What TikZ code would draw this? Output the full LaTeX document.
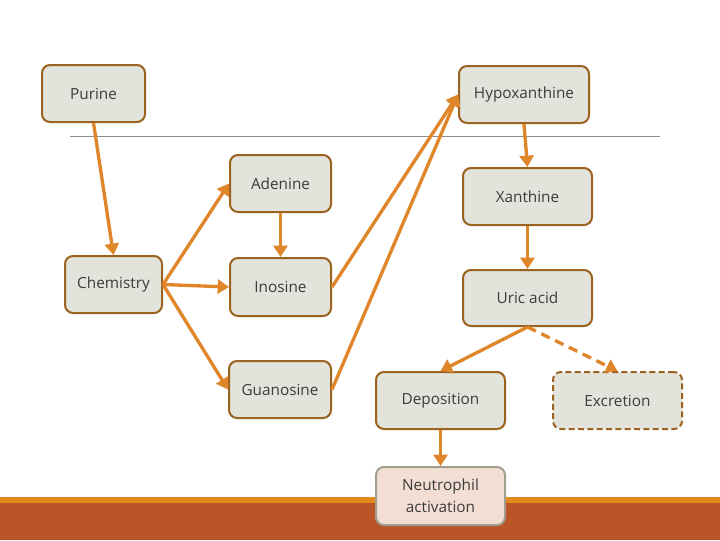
\documentclass[tikz,border=0pt]{standalone}
\usepackage{fontspec}
\setmainfont{Open Sans}
\usetikzlibrary{arrows.meta}
\definecolor{boxfill}{HTML}{E2E3DB}
\definecolor{boxdraw}{HTML}{9C621F}
\definecolor{arr}{HTML}{E0862A}
\definecolor{txt}{HTML}{3C3C3C}
\definecolor{band}{HTML}{BB5527}
\definecolor{strip}{HTML}{E38A1D}
\definecolor{rulec}{HTML}{8C8C8C}
\definecolor{nfill}{HTML}{F3DED4}
\definecolor{ndraw}{HTML}{A29E8E}
\begin{document}
\begin{tikzpicture}[x=0.75pt,y=-0.75pt,
 box/.style={draw=boxdraw,fill=boxfill,line width=1.5pt,rounded corners=6pt,text=txt,
   font=\fontsize{11.5}{16.5}\selectfont,inner sep=0pt,align=center,minimum height=42.75pt},
 arrow/.style={draw=arr,line width=2.5pt,-{Triangle[length=8.5pt,width=10.5pt]}}
]
\useasboundingbox (0,0) rectangle (720,540);
\fill[white] (0,0) rectangle (720,540);
\fill[strip] (0,497) rectangle (720,503);
\fill[band] (0,503) rectangle (720,540);
\draw[rulec,line width=0.75pt] (70,136) -- (660,136);

\node[box,minimum width=77.25pt] (pur) at (93.5,93.5) {Purine};
\node[box,minimum width=97.5pt] (hyp) at (524,94.5) {Hypoxanthine};
\node[box,minimum width=75.75pt] (ade) at (280.5,183.5) {Adenine};
\node[box,minimum width=96.75pt] (xan) at (527.5,196.5) {Xanthine};
\node[box,minimum width=72.75pt] (che) at (113.5,284.5) {Chemistry};
\node[box,minimum width=75.75pt,minimum height=43.5pt] (ino) at (280.5,287) {Inosine};
\node[box,minimum width=96.75pt,minimum height=42pt] (uri) at (527.5,298) {Uric acid};
\node[box,minimum width=76.5pt] (gua) at (280,389.5) {Guanosine};
\node[box,minimum width=96.75pt] (dep) at (440.5,400.5) {Deposition};
\node[box,minimum width=96.75pt,dash pattern=on 4.5pt off 2.5pt] (exc) at (617.5,400.5) {Excretion};
\node[box,minimum width=96.75pt,minimum height=43.5pt,fill=nfill,draw=ndraw] (neu) at (440.5,496) {Neutrophil\\activation};

\draw[arrow] (pur.south) -- (che.north);
\draw[arrow] (che.east) -- (ade.west);
\draw[arrow] (che.east) -- (ino.west);
\draw[arrow] (che.east) -- (gua.west);
\draw[arrow] (ade.south) -- (ino.north);
\draw[arrow] (ino.east) -- (hyp.west);
\draw[arrow] (gua.east) -- (hyp.west);
\draw[arrow] (hyp.south) -- (xan.north);
\draw[arrow] (xan.south) -- (uri.north);
\draw[arrow] (uri.south) -- (dep.north);
\draw[arrow,dash pattern=on 7pt off 4.5pt] (uri.south) -- (exc.north);
\draw[arrow] (dep.south) -- (neu.north);
\end{tikzpicture}
\end{document}
